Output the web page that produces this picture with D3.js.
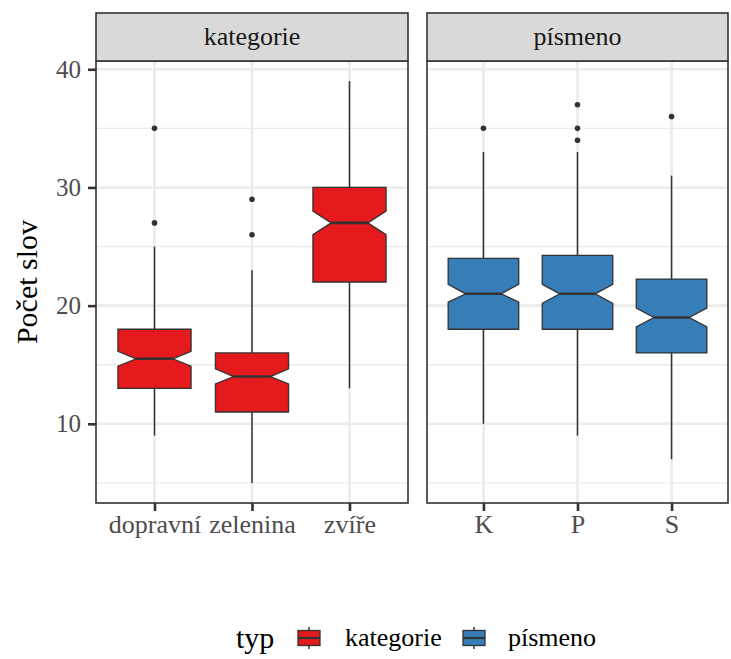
<!DOCTYPE html>
<html>
<head>
<meta charset="utf-8">
<script src="https://cdn.jsdelivr.net/npm/d3@7"></script>
<style>
  body { margin: 0; background: #fff; }
</style>
</head>
<body>
<div id="chart"></div>
<script>
var FONT = "'Liberation Serif', 'Times New Roman', Times, serif";

// facet panels
var facets = ["kategorie", "písmeno"];
var facetColors = ["#E41A1C", "#377EB8"];

// per facet categories + box stats
var catsKategorie = ["dopravní", "zelenina", "zvíře"];
var catsPismeno = ["K", "P", "S"];

var loWhisker = [[9, 5, 13], [10, 9, 7]];
var q1 = [[13, 11, 22], [18, 18, 16]];
var median = [[15.5, 14, 27], [21, 21, 19]];
var q3 = [[18, 16, 30], [24, 24.25, 22.25]];
var hiWhisker = [[25, 23, 39], [33, 33, 31]];
var notchLo = [[14.87, 13.38, 26.0], [20.3, 20.2, 18.2]];
var notchHi = [[16.13, 14.65, 28.0], [21.8, 21.8, 19.8]];
var outliers = [[[27, 35], [26, 29], []], [[35], [34, 35, 37], [36]]];

var yTicks = [10, 20, 30, 40];
var yMinor = [5, 15, 25, 35];

var W = 731, H = 659;
var svg = d3.select("#chart").append("svg")
    .attr("width", W).attr("height", H)
    .style("font-family", FONT);

var panelTop = 61, panelBottom = 503, stripTop = 13;
var panelX = [[96, 408], [427, 728]];
var gridCol = "#ebebeb", darkCol = "#333333";

var y = d3.scaleLinear().domain([3.3, 40.7]).range([panelBottom, panelTop]);

var allCats = [catsKategorie, catsPismeno];

facets.forEach(function(f, fi) {
    var x0 = panelX[fi][0], x1 = panelX[fi][1];
    var x = d3.scalePoint().domain(allCats[fi]).range([x0, x1]).padding(0.6);
    var bw = x.step() * 0.75;
    var g = svg.append("g");

    // grid
    g.selectAll(".minor").data(yMinor).enter().append("line")
        .attr("x1", x0).attr("x2", x1)
        .attr("y1", d => y(d)).attr("y2", d => y(d))
        .attr("stroke", gridCol).attr("stroke-width", 1.3);
    g.selectAll(".major").data(yTicks).enter().append("line")
        .attr("x1", x0).attr("x2", x1)
        .attr("y1", d => y(d)).attr("y2", d => y(d))
        .attr("stroke", gridCol).attr("stroke-width", 2.6);
    g.selectAll(".vmajor").data(allCats[fi]).enter().append("line")
        .attr("x1", d => x(d)).attr("x2", d => x(d))
        .attr("y1", panelTop).attr("y2", panelBottom)
        .attr("stroke", gridCol).attr("stroke-width", 2.6);

    allCats[fi].forEach(function(c, i) {
        var cx = x(c);
        // whiskers
        g.append("line").attr("x1", cx).attr("x2", cx)
            .attr("y1", y(hiWhisker[fi][i])).attr("y2", y(q3[fi][i]))
            .attr("stroke", darkCol).attr("stroke-width", 1.5);
        g.append("line").attr("x1", cx).attr("x2", cx)
            .attr("y1", y(q1[fi][i])).attr("y2", y(loWhisker[fi][i]))
            .attr("stroke", darkCol).attr("stroke-width", 1.5);
        // notched box
        var l = cx - bw / 2, r = cx + bw / 2, nl = cx - bw / 4, nr = cx + bw / 4;
        var pts = [
            [l, y(q3[fi][i])], [r, y(q3[fi][i])], [r, y(notchHi[fi][i])],
            [nr, y(median[fi][i])], [r, y(notchLo[fi][i])], [r, y(q1[fi][i])],
            [l, y(q1[fi][i])], [l, y(notchLo[fi][i])], [nl, y(median[fi][i])],
            [l, y(notchHi[fi][i])]
        ];
        g.append("path").attr("d", "M" + pts.join("L") + "Z")
            .attr("fill", facetColors[fi]).attr("stroke", darkCol).attr("stroke-width", 1.3);
        g.append("line").attr("x1", nl).attr("x2", nr)
            .attr("y1", y(median[fi][i])).attr("y2", y(median[fi][i]))
            .attr("stroke", darkCol).attr("stroke-width", 2.6);
        // outliers
        g.selectAll(null).data(outliers[fi][i]).enter().append("circle")
            .attr("cx", cx).attr("cy", d => y(d)).attr("r", 2.8)
            .attr("fill", darkCol);
    });

    // panel border
    g.append("rect").attr("x", x0).attr("y", panelTop)
        .attr("width", x1 - x0).attr("height", panelBottom - panelTop)
        .attr("fill", "none").attr("stroke", darkCol).attr("stroke-width", 1.6);
    // strip
    g.append("rect").attr("x", x0).attr("y", stripTop)
        .attr("width", x1 - x0).attr("height", panelTop - stripTop)
        .attr("fill", "#d9d9d9").attr("stroke", darkCol).attr("stroke-width", 1.6);
    g.append("text").attr("x", (x0 + x1) / 2).attr("y", (stripTop + panelTop) / 2 + 8)
        .attr("text-anchor", "middle").attr("font-size", 26).attr("fill", "#1a1a1a")
        .text(f);

    // x axis
    var xa = g.append("g").attr("transform", "translate(0," + panelBottom + ")")
        .call(d3.axisBottom(x).tickSize(8).tickPadding(4));
    xa.select(".domain").remove();
    xa.attr("font-family", null).attr("font-size", null);
    xa.selectAll(".tick line").attr("stroke", darkCol).attr("stroke-width", 2.6);
    xa.selectAll(".tick text").attr("font-size", 26).attr("fill", "#4d4d4d");

    if (fi === 0) {
        var ya = g.append("g").attr("transform", "translate(" + x0 + ",0)")
            .call(d3.axisLeft(y).tickValues(yTicks).tickSize(8).tickPadding(7));
        ya.select(".domain").remove();
        ya.attr("font-family", null).attr("font-size", null);
        ya.selectAll(".tick line").attr("stroke", darkCol).attr("stroke-width", 2.6);
        ya.selectAll(".tick text").attr("font-size", 25).attr("fill", "#4d4d4d");
    }
});

// y title
svg.append("text")
    .attr("transform", "translate(37," + (panelTop + panelBottom) / 2 + ") rotate(-90)")
    .attr("text-anchor", "middle").attr("font-size", 30).attr("fill", "#000")
    .text("Počet slov");

// legend
var lg = svg.append("g").attr("transform", "translate(0,638)");
lg.append("text").attr("x", 236).attr("y", 10).attr("font-size", 30).text("typ");
var keyX = [298, 463], labX = [345, 508];
facets.forEach(function(f, fi) {
    var kx = keyX[fi];
    lg.append("line").attr("x1", kx + 11).attr("x2", kx + 11).attr("y1", -11).attr("y2", 11)
        .attr("stroke", darkCol).attr("stroke-width", 1.5);
    lg.append("rect").attr("x", kx).attr("y", -7.5).attr("width", 22).attr("height", 15)
        .attr("fill", facetColors[fi]).attr("stroke", darkCol).attr("stroke-width", 1.3);
    lg.append("line").attr("x1", kx).attr("x2", kx + 22).attr("y1", 0).attr("y2", 0)
        .attr("stroke", darkCol).attr("stroke-width", 2.2);
    lg.append("text").attr("x", labX[fi]).attr("y", 8).attr("font-size", 26).text(f);
});
</script>
</body>
</html>
